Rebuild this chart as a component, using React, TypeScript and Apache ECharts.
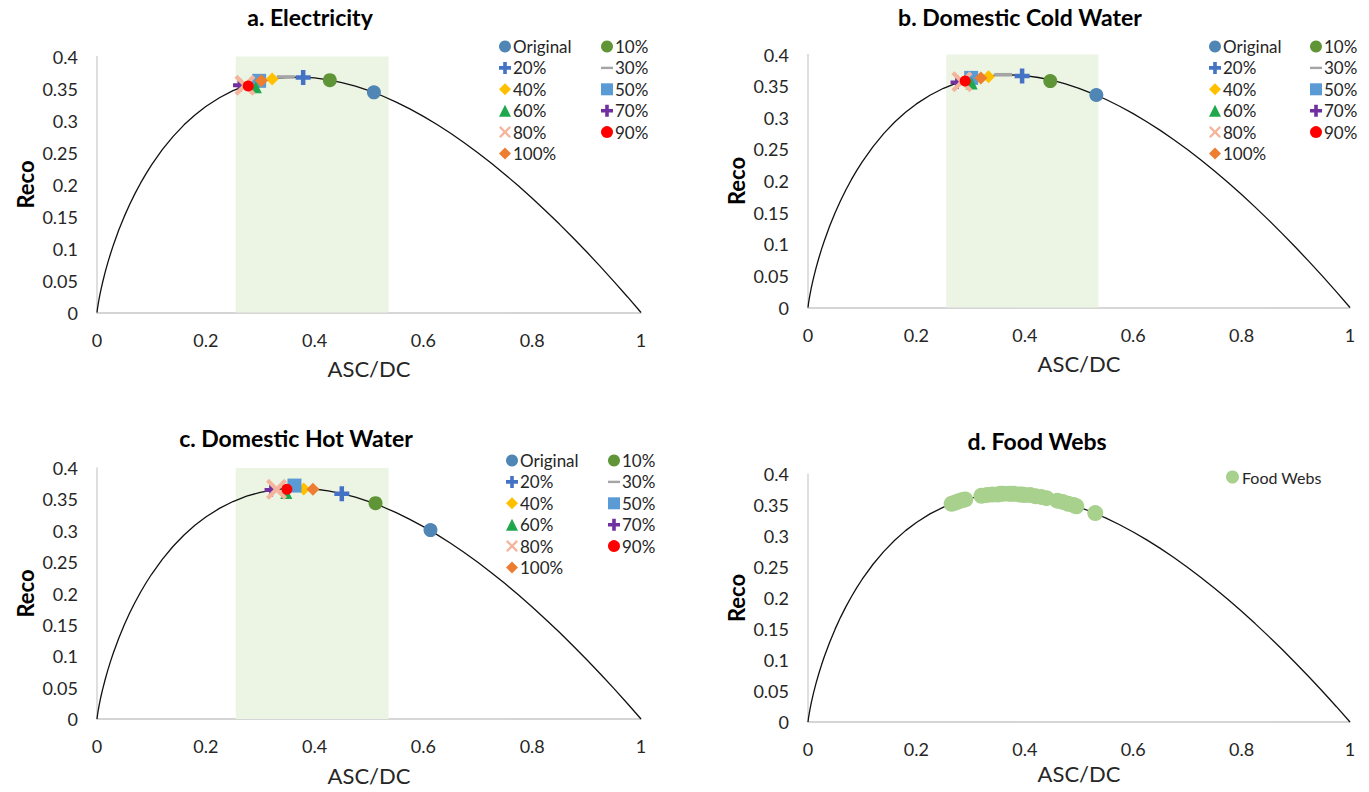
import React, { useEffect, useRef } from "react";
import * as echarts from "echarts";

// ---------- data ----------
const CATEGORIES = ["Original", "10%", "20%", "30%", "40%", "50%", "60%", "70%", "80%", "90%", "100%"];

const ELEC_X = [0.509, 0.428, 0.379, 0.347, 0.322, 0.298, 0.292, 0.262, 0.272, 0.278, 0.302];
const ELEC_Y = [0.344, 0.363, 0.367, 0.368, 0.365, 0.362, 0.352, 0.355, 0.355, 0.354, 0.362];

const COLD_X = [0.532, 0.447, 0.395, 0.36, 0.333, 0.301, 0.302, 0.275, 0.284, 0.29, 0.319];
const COLD_Y = [0.336, 0.358, 0.366, 0.368, 0.365, 0.363, 0.354, 0.356, 0.357, 0.358, 0.363];

const HOT_X = [0.613, 0.512, 0.45, 0.37, 0.38, 0.363, 0.348, 0.32, 0.33, 0.349, 0.397];
const HOT_Y = [0.301, 0.344, 0.359, 0.367, 0.3665, 0.372, 0.36, 0.365, 0.366, 0.366, 0.366];

const FOOD_X = [0.265, 0.272, 0.278, 0.285, 0.29, 0.32, 0.33, 0.34, 0.35, 0.355, 0.36, 0.37, 0.375, 0.38, 0.39, 0.395, 0.4, 0.41, 0.42, 0.43, 0.44, 0.46, 0.47, 0.48, 0.49, 0.495, 0.53];
const FOOD_Y = [0.352, 0.354, 0.356, 0.358, 0.359, 0.365, 0.366, 0.367, 0.367, 0.368, 0.368, 0.368, 0.368, 0.368, 0.367, 0.367, 0.366, 0.366, 0.364, 0.363, 0.361, 0.357, 0.355, 0.352, 0.35, 0.348, 0.337];

// Reco curve
const CURVE_X = [0, 0.001, 0.002, 0.004, 0.006, 0.008, 0.01, 0.015, 0.02, 0.025, 0.03, 0.04, 0.05, 0.06, 0.07, 0.08, 0.09, 0.1, 0.12, 0.14, 0.16, 0.18, 0.2, 0.225, 0.25, 0.275, 0.3, 0.325, 0.35, 0.375, 0.4, 0.425, 0.45, 0.475, 0.5, 0.525, 0.55, 0.575, 0.6, 0.625, 0.65, 0.675, 0.7, 0.725, 0.75, 0.775, 0.8, 0.825, 0.85, 0.875, 0.9, 0.925, 0.95, 0.975, 1];
const CURVE_Y = [0, 0.00691, 0.01243, 0.02209, 0.0307, 0.03863, 0.04605, 0.063, 0.07824, 0.09222, 0.1052, 0.12876, 0.14979, 0.1688, 0.18615, 0.20206, 0.21671, 0.23026, 0.25443, 0.27526, 0.29321, 0.30866, 0.32189, 0.33562, 0.34657, 0.35502, 0.36119, 0.36523, 0.36744, 0.36781, 0.36652, 0.36364, 0.35933, 0.35364, 0.34657, 0.33828, 0.32881, 0.3182, 0.3065, 0.29375, 0.28001, 0.2653, 0.24967, 0.23313, 0.21576, 0.19754, 0.17851, 0.1587, 0.13814, 0.11684, 0.09482, 0.07212, 0.04873, 0.02469, 0];

const SHADE_X = [0.255, 0.536];
const SHADE_TOP = [0.414, 0.407, 0.402];

// ---------- styles ----------
const FONT = "Lato, 'Open Sans', sans-serif";
const PLUS = "path://M3.5,0H6.5V3.5H10V6.5H6.5V10H3.5V6.5H0V3.5H3.5Z";
const CROSS = "path://M1.4,0L5,3.6L8.6,0L10,1.4L6.4,5L10,8.6L8.6,10L5,6.4L1.4,10L0,8.6L3.6,5L0,1.4Z";
const DASH = "path://M0,0H10V2H0Z";

const STYLES: any[] = [
  { symbol: "circle", size: 14, color: "#4f86b5" },
  { symbol: "circle", size: 14, color: "#5f9537" },
  { symbol: PLUS, size: 15, color: "#4472c4" },
  { symbol: DASH, size: [18, 3.6], color: "#a5a5a5" },
  { symbol: "diamond", size: 13, color: "#ffc000" },
  { symbol: "rect", size: 14, color: "#5b9bd5" },
  { symbol: "triangle", size: 12, color: "#1ea84b" },
  { symbol: PLUS, size: 13, color: "#7030a0" },
  { symbol: CROSS, size: 21, color: "#f4b59c" },
  { symbol: "circle", size: 11, color: "#ff0000" },
  { symbol: "diamond", size: 13, color: "#ed7d31" },
];

const PANELS = [
  { title: "a. Electricity", tx: 310, ty: 17, grid: { left: 97, top: 56.5, width: 544, height: 256 }, lx: [494, 596], ly: 33, xs: ELEC_X, ys: ELEC_Y },
  { title: "b. Domestic Cold Water", tx: 1020, ty: 17, grid: { left: 808, top: 54.5, width: 542, height: 253 }, lx: [1204, 1305], ly: 33, xs: COLD_X, ys: COLD_Y },
  { title: "c. Domestic Hot Water", tx: 296, ty: 438, grid: { left: 97, top: 468, width: 544, height: 251 }, lx: [501, 603], ly: 447, xs: HOT_X, ys: HOT_Y },
  { title: "d. Food Webs", tx: 1037, ty: 441, grid: { left: 808, top: 474, width: 542, height: 248 }, lx: [1221], ly: 464, xs: FOOD_X, ys: FOOD_Y },
];

function buildOption() {
  const grids: any[] = [];
  const xAxes: any[] = [];
  const yAxes: any[] = [];
  const series: any[] = [];
  const legends: any[] = [];
  const graphics: any[] = [];
  const curveData = CURVE_X.map((x, i) => [x, CURVE_Y[i]]);

  PANELS.forEach((p, pi) => {
    grids.push({ ...p.grid, containLabel: false });
    xAxes.push({
      gridIndex: pi, type: "value", min: 0, max: 1, interval: 0.2,
      axisLine: { show: true, lineStyle: { color: "#c8c8c8", width: 1.5 } },
      axisTick: { show: false }, splitLine: { show: false },
      axisLabel: { color: "#262626", fontSize: 18, fontFamily: FONT, margin: 18 },
      name: "ASC/DC", nameLocation: "middle", nameGap: pi === 3 ? 40 : 45,
      nameTextStyle: { color: "#262626", fontSize: 22, fontFamily: FONT },
    });
    yAxes.push({
      gridIndex: pi, type: "value", min: 0, max: 0.4, interval: 0.05,
      axisLine: { show: true, lineStyle: { color: "#d4d4d4", width: 1.5 } },
      axisTick: { show: false }, splitLine: { show: false },
      axisLabel: { color: "#262626", fontSize: 18, fontFamily: FONT, margin: 19 },
      name: "Reco", nameLocation: "middle", nameGap: 61,
      nameTextStyle: { color: "#000", fontSize: 22, fontWeight: "bold", fontFamily: FONT },
    });
    const curve: any = {
      type: "line", name: "curve", xAxisIndex: pi, yAxisIndex: pi, data: curveData,
      symbol: "none", smooth: false, silent: true, clip: false,
      lineStyle: { color: "#111", width: 1.3 }, z: 2,
    };
    if (pi < 3) {
      curve.markArea = {
        silent: true, z: 1,
        itemStyle: { color: "#ecf4e3" },
        data: [[{ xAxis: SHADE_X[0], yAxis: 0 }, { xAxis: SHADE_X[1], yAxis: SHADE_TOP[pi] }]],
      };
    }
    series.push(curve);

    if (pi < 3) {
      CATEGORIES.forEach((c, ci) => {
        const st = STYLES[ci];
        series.push({
          type: "scatter", name: c, xAxisIndex: pi, yAxisIndex: pi,
          data: [[p.xs[ci], p.ys[ci]]], symbol: st.symbol, symbolSize: st.size,
          itemStyle: { color: st.color, opacity: 1 }, z: 3 + ci * 0.01,
        });
      });
      const col1 = CATEGORIES.filter((_, i) => i % 2 === 0);
      const col2 = CATEGORIES.filter((_, i) => i % 2 === 1);
      [col1, col2].forEach((col, k) => {
        legends.push({
          orient: "vertical", left: p.lx[k], top: p.ly, data: col,
          itemWidth: 12, itemHeight: 12, itemGap: 4.4, selectedMode: false,
          textStyle: { fontSize: 17, fontFamily: FONT, color: "#262626", padding: [0, 0, 0, -3] },
        });
      });
    } else {
      series.push({
        type: "scatter", name: "Food Webs", xAxisIndex: pi, yAxisIndex: pi,
        data: p.xs.map((x, i) => [x, p.ys[i]]), symbol: "circle", symbolSize: 16,
        itemStyle: { color: "#a9d18e", opacity: 1 }, z: 3,
      });
      legends.push({
        orient: "vertical", left: p.lx[0], top: p.ly, data: ["Food Webs"],
        itemWidth: 13, itemHeight: 13, selectedMode: false,
        textStyle: { fontSize: 16, fontFamily: FONT, color: "#262626", padding: [0, 0, 0, -2] },
      });
    }

    graphics.push({
      type: "text", x: p.tx, y: p.ty,
      style: { text: p.title, fontSize: 23, fontWeight: "bold", fontFamily: FONT, fill: "#000", align: "center", verticalAlign: "middle" },
    });
  });

  return {
    animation: false,
    backgroundColor: "#fff",
    grid: grids, xAxis: xAxes, yAxis: yAxes, series, legend: legends, graphic: graphics,
  };
}

export default function App() {
  const ref = useRef<HTMLDivElement>(null);
  useEffect(() => {
    if (!ref.current) return;
    const chart = echarts.init(ref.current, undefined, { renderer: "svg" });
    chart.setOption(buildOption() as any);
    return () => chart.dispose();
  }, []);
  return <div ref={ref} style={{ position: "fixed", left: 0, top: 0, width: 1369, height: 792 }} />;
}
